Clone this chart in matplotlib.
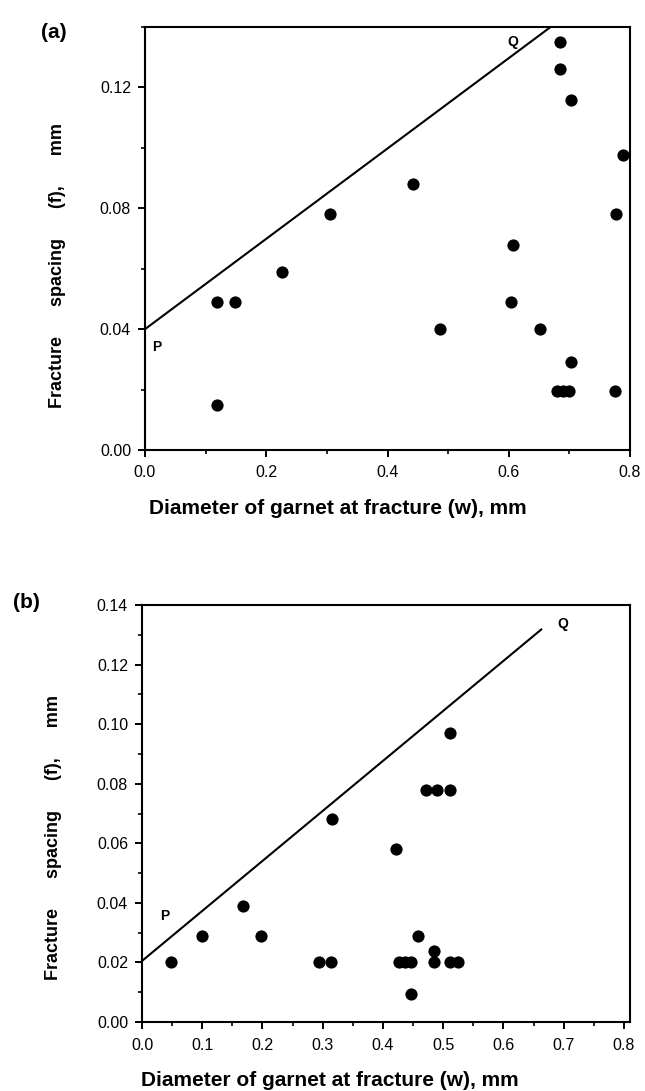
import matplotlib
matplotlib.use("Agg")
import matplotlib.pyplot as plt
from matplotlib.ticker import MultipleLocator, FormatStrFormatter

plt.rcParams['font.family'] = ['Liberation Sans', 'DejaVu Sans']

# ---------------- data ----------------
# Panel (a)
wa = [0.118, 0.119, 0.148, 0.226, 0.305, 0.442, 0.487, 0.604, 0.607, 0.651,
      0.679, 0.690, 0.700, 0.702, 0.684, 0.684, 0.702, 0.777, 0.789, 0.776]
fa = [0.015, 0.049, 0.049, 0.059, 0.078, 0.088, 0.040, 0.049, 0.068, 0.040,
      0.0195, 0.0195, 0.0195, 0.029, 0.126, 0.135, 0.116, 0.078, 0.0975, 0.0195]
line_a_w = [0.0, 0.669]
line_a_f = [0.040, 0.140]

# Panel (b)
wb = [0.048, 0.100, 0.168, 0.198, 0.293, 0.313, 0.315, 0.422, 0.427, 0.437,
      0.447, 0.446, 0.458, 0.471, 0.490, 0.511, 0.511, 0.485, 0.485, 0.512, 0.525]
fb = [0.020, 0.029, 0.039, 0.029, 0.020, 0.020, 0.068, 0.058, 0.020, 0.020,
      0.020, 0.0095, 0.029, 0.078, 0.078, 0.078, 0.097, 0.024, 0.020, 0.020, 0.020]
line_b_w = [0.0, 0.664]
line_b_f = [0.0205, 0.132]

xlabel = "Diameter of garnet at fracture (w), mm"
ylabel = "Fracture      spacing      (f),      mm"

# ---------------- figure ----------------
W, H = 645, 1091
fig = plt.figure(figsize=(W / 100, H / 100), dpi=100)

def box(l, t, r, b):
    return [l / W, 1 - b / H, (r - l) / W, (b - t) / H]

axa = fig.add_axes(box(145, 27, 630, 450))
axb = fig.add_axes(box(142, 605, 630, 1022))

def style(ax, xmax, ymax, xmaj, xmin, ymaj, ymin, xfmt, yfmt, xpad, ypad):
    ax.set_xlim(0, xmax)
    ax.set_ylim(0, ymax)
    for s in ax.spines.values():
        s.set_linewidth(1.5)
        s.set_color('black')
    ax.xaxis.set_major_locator(MultipleLocator(xmaj))
    ax.xaxis.set_minor_locator(MultipleLocator(xmin))
    ax.yaxis.set_major_locator(MultipleLocator(ymaj))
    ax.yaxis.set_minor_locator(MultipleLocator(ymin))
    ax.xaxis.set_major_formatter(FormatStrFormatter(xfmt))
    ax.yaxis.set_major_formatter(FormatStrFormatter(yfmt))
    ax.tick_params(which='major', direction='out', length=5, width=1.4,
                   labelsize=11.5, top=False, right=False)
    ax.tick_params(which='minor', direction='out', length=3, width=1.2,
                   top=False, right=False)
    ax.tick_params(axis='x', which='major', pad=xpad)
    ax.tick_params(axis='y', which='major', pad=ypad)

style(axa, 0.8, 0.14, 0.2, 0.1, 0.04, 0.02, '%.1f', '%.2f', 5.5, 5)
style(axb, 0.81, 0.14, 0.1, 0.05, 0.02, 0.01, '%.1f', '%.2f', 6.5, 5)
axa.set_yticks([0.0, 0.04, 0.08, 0.12])

for ax, w, f, lw, lf in [(axa, wa, fa, line_a_w, line_a_f),
                         (axb, wb, fb, line_b_w, line_b_f)]:
    ax.plot(lw, lf, color='black', lw=1.5, solid_capstyle='butt')
    ax.plot(w, f, 'o', color='black', markersize=8.8, markeredgewidth=0,
            clip_on=False)

axa.text(0.020, 0.034, 'P', fontsize=10, fontweight='bold', ha='center', va='center')
axa.text(0.607, 0.135, 'Q', fontsize=10, fontweight='bold', ha='center', va='center')
axb.text(0.037, 0.0356, 'P', fontsize=10, fontweight='bold', ha='center', va='center')
axb.text(0.698, 0.1337, 'Q', fontsize=10, fontweight='bold', ha='center', va='center')

# axis labels
xl_font = dict(fontsize=15, fontweight='bold')
fig.text(338 / W, 1 - 509 / H, xlabel, ha='center', va='center', **xl_font)
fig.text(330 / W, 1 - 1081 / H, xlabel, ha='center', va='center', **xl_font)

yl_font = dict(fontsize=13, fontweight='bold')
fig.text(58 / W, 1 - 266 / H, ylabel, rotation=90, ha='center', va='center', **yl_font)
fig.text(54 / W, 1 - 837 / H, ylabel, rotation=90, ha='center', va='center', **yl_font)

fig.text(54 / W, 1 - 32 / H, '(a)', fontsize=15, fontweight='bold', ha='center', va='center')
fig.text(26 / W, 1 - 602 / H, '(b)', fontsize=15, fontweight='bold', ha='center', va='center')

fig.savefig('out.png', dpi=100)
